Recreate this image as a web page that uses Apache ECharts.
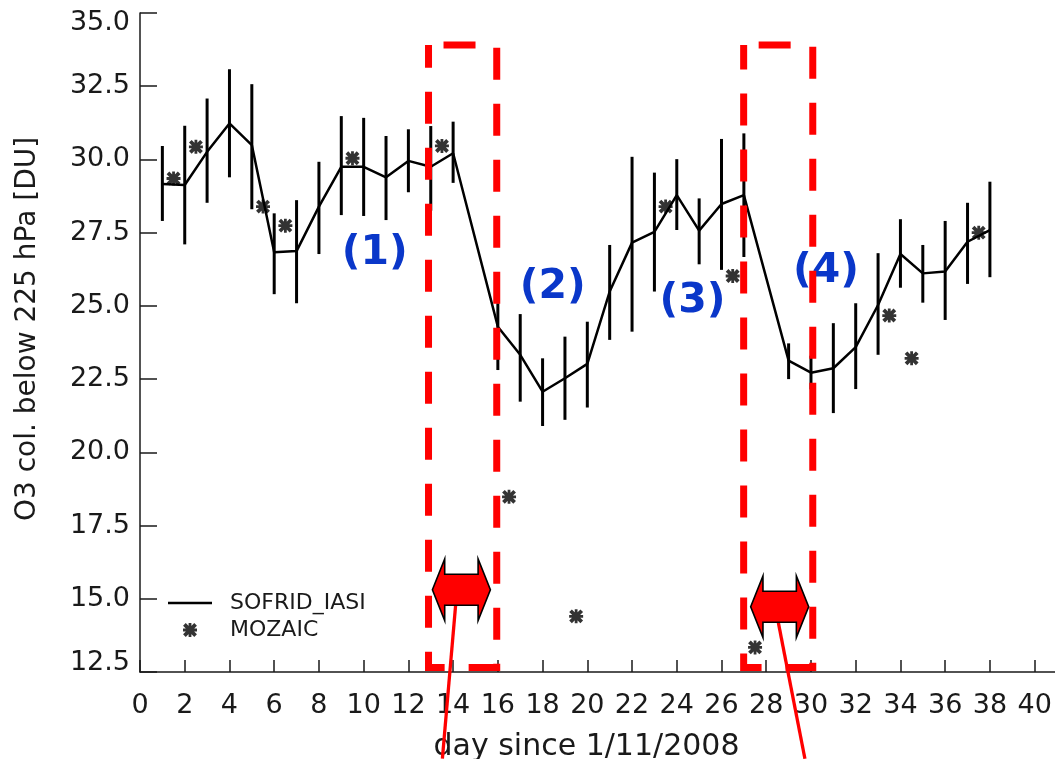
<!DOCTYPE html>
<html>
<head>
<meta charset="utf-8">
<script src="https://cdn.jsdelivr.net/npm/echarts@6/dist/echarts.min.js"></script>
<style>
  html, body { margin: 0; padding: 0; background: #fff; }
  #chart { width: 1055px; height: 759px; }
</style>
</head>
<body>
<div id="chart"></div>
<script>
// SOFRID_IASI daily O3 column below 225 hPa (DU) with its error range
const days = [1, 2, 3, 4, 5, 6, 7, 8, 9, 10, 11, 12, 13, 14, 16, 17, 18, 19, 20, 21, 22, 23, 24, 25, 26, 27, 29, 30, 31, 32, 33, 34, 35, 36, 37, 38];
const sofrid = [29.16, 29.13, 30.26, 31.23, 30.49, 26.83, 26.87, 28.39, 29.75, 29.75, 29.39, 29.95, 29.75, 30.21, 24.29, 23.33, 22.07, 22.53, 23.02, 25.49, 27.16, 27.53, 28.78, 27.57, 28.48, 28.78, 23.13, 22.72, 22.87, 23.59, 25.03, 26.77, 26.11, 26.17, 27.19, 27.59];
const sofridLow = [27.90, 27.10, 28.52, 29.39, 28.30, 25.40, 25.09, 26.77, 28.10, 28.07, 27.93, 28.88, 28.25, 29.20, 22.81, 21.73, 20.90, 21.11, 21.53, 23.84, 24.12, 25.49, 27.59, 26.42, 26.23, 26.67, 22.50, 22.15, 21.34, 22.16, 23.33, 25.62, 25.11, 24.52, 25.75, 25.98];
const sofridHigh = [30.46, 31.15, 32.08, 33.08, 32.57, 28.16, 28.61, 29.92, 31.48, 31.42, 30.80, 31.03, 31.14, 31.29, 25.09, 24.72, 23.21, 23.95, 24.46, 27.08, 30.09, 29.55, 30.01, 28.67, 30.70, 30.89, 23.72, 23.30, 24.41, 25.09, 26.80, 27.96, 27.08, 27.90, 28.52, 29.24];

// MOZAIC aircraft profiles (DU)
const mozaicDays = [1.5, 2.5, 5.5, 6.5, 9.5, 13.5, 16.5, 19.5, 23.5, 26.5, 27.5, 33.5, 34.5, 37.5];
const mozaic = [29.35, 30.43, 28.39, 27.74, 30.04, 30.46, 18.48, 14.40, 28.39, 26.02, 13.34, 24.67, 23.21, 27.50];

// Period labels and highlighted windows (in data units)
const periodLabels = ['(1)', '(2)', '(3)', '(4)'];
const periodDays = [10.5, 18.45, 24.7, 30.67];
const periodValues = [26.8, 25.62, 25.14, 26.18];
const windowStart = [12.9, 26.99];
const windowEnd = [15.95, 30.08];
const windowBottom = 12.65;
const windowTop = 33.91;
const arrowDays = [14.37, 28.6];
const arrowValues = [15.31, 14.73];
const pointerFrom = [[14.22, 15.74], [28.53, 14.23]];
const pointerTo = [[13.52, 9.54], [29.73, 9.54]];

const chart = echarts.init(document.getElementById('chart'), null, { renderer: 'canvas' });

const axisFont = 'DejaVu Sans';
const ink = '#1a1a1a';

const starPath = 'path://M8 0 L12 0 L12 20 L8 20 Z M0 8 L20 8 L20 12 L0 12 Z ' +
  'M3.9 0.1 L19.9 16.1 L16.1 19.9 L0.1 3.9 Z M16.1 0.1 L19.9 3.9 L3.9 19.9 L0.1 16.1 Z';
const legendLine = 'path://M0 0 L44 0 L44 2.4 L0 2.4 Z';

const lineData = days.map((d, i) => [d, sofrid[i]]);
const errData = days.map((d, i) => [d, sofridLow[i], sofridHigh[i]]);
const mozData = mozaicDays.map((d, i) => [d, mozaic[i]]);

chart.setOption({
  animation: false,
  backgroundColor: '#ffffff',
  // the x axis runs one day past its last labelled tick, to the page edge
  grid: { left: 140, right: -2, top: 13, bottom: 87, containLabel: false, outerBoundsMode: 'none' },
  legend: {
    orient: 'vertical',
    left: 163,
    top: 587,
    itemWidth: 44,
    itemHeight: 14,
    itemGap: 5,
    data: [
      { name: 'SOFRID_IASI', icon: legendLine },
      { name: 'MOZAIC', icon: starPath }
    ],
    formatter: function (name) { return '{t|' + name + '}'; },
    textStyle: {
      fontFamily: axisFont, fontSize: 22, color: ink,
      rich: { t: { fontFamily: axisFont, fontSize: 22, color: ink, padding: [0, 0, 0, 13] } }
    },
    selectedMode: false
  },
  xAxis: {
    type: 'value',
    min: 0,
    max: 41,
    interval: 2,
    name: 'day since 1/11/2008',
    nameLocation: 'middle',
    nameGap: 60,
    nameTextStyle: { fontFamily: axisFont, fontSize: 30, color: ink, padding: [0, 24, 0, 0] },
    axisLine: { show: true, onZero: false, lineStyle: { color: ink, width: 1.5 } },
    axisTick: { show: true, inside: true, length: 12, lineStyle: { color: ink, width: 1.5 } },
    axisLabel: {
      fontFamily: axisFont, fontSize: 27, color: ink, margin: 20, showMaxLabel: false,
      formatter: function (v) { return v % 2 === 0 ? String(v) : ''; }
    },
    splitLine: { show: false }
  },
  yAxis: {
    type: 'value',
    min: 12.5,
    max: 35,
    interval: 2.5,
    name: 'O3 col. below 225 hPa [DU]',
    nameLocation: 'middle',
    nameGap: 98,
    nameRotate: 90,
    nameTextStyle: { fontFamily: axisFont, fontSize: 28, color: ink, padding: [0, 0, 0, 27] },
    axisLine: { show: true, onZero: false, lineStyle: { color: ink, width: 1.5 } },
    axisTick: { show: true, inside: true, length: 17, lineStyle: { color: ink, width: 1.5 } },
    axisLabel: {
      fontFamily: axisFont, fontSize: 27, color: ink, margin: 10,
      formatter: function (v) {
        const s = v.toFixed(1);
        if (v === 35) return '{top|' + s + '}';
        if (v === 12.5) return '{bot|' + s + '}';
        return s;
      },
      rich: {
        top: { fontFamily: axisFont, fontSize: 27, color: ink, padding: [20, 0, 0, 0] },
        bot: { fontFamily: axisFont, fontSize: 27, color: ink, padding: [0, 0, 18, 0] }
      }
    },
    splitLine: { show: false }
  },
  series: [
    {
      name: 'SOFRID_IASI',
      type: 'line',
      data: lineData,
      symbol: 'none',
      lineStyle: { color: '#000', width: 2.5 },
      itemStyle: { color: '#000' },
      z: 3
    },
    {
      name: 'SOFRID_IASI error',
      type: 'custom',
      data: errData,
      encode: { x: 0, y: [1, 2] },
      renderItem: function (params, api) {
        const x = api.value(0);
        const lo = api.coord([x, api.value(1)]);
        const hi = api.coord([x, api.value(2)]);
        return {
          type: 'line',
          shape: { x1: lo[0], y1: lo[1], x2: hi[0], y2: hi[1] },
          style: { stroke: '#000', lineWidth: 3 }
        };
      },
      z: 3
    },
    {
      name: 'MOZAIC',
      type: 'scatter',
      data: mozData,
      symbol: starPath,
      symbolSize: 14,
      itemStyle: { color: '#000' },
      z: 4
    }
  ]
});

// Annotations placed through the grid's own data-to-pixel conversion
function px(d, v) { return chart.convertToPixel({ gridIndex: 0 }, [d, v]); }

const graphics = [];

periodLabels.forEach((t, i) => {
  const p = px(periodDays[i], periodValues[i]);
  graphics.push({
    type: 'text', x: p[0], y: p[1], z: 5,
    style: {
      text: t, fill: '#0a37c9', font: 'bold 41px "DejaVu Sans"',
      textAlign: 'center', textVerticalAlign: 'middle'
    }
  });
});

windowStart.forEach((s, i) => {
  const a = px(s, windowTop);
  const b = px(windowEnd[i], windowBottom);
  graphics.push({
    type: 'rect', z: 10,
    shape: { x: a[0], y: a[1], width: b[0] - a[0], height: b[1] - a[1] },
    style: { fill: null, stroke: '#ff0000', lineWidth: 7, lineDash: [32, 24], lineDashOffset: 41 }
  });
});

pointerFrom.forEach((f, i) => {
  const a = px(f[0], f[1]);
  const b = px(pointerTo[i][0], pointerTo[i][1]);
  graphics.push({
    type: 'line', z: 11,
    shape: { x1: a[0], y1: a[1], x2: b[0], y2: b[1] },
    style: { stroke: '#ff0000', lineWidth: 3.3 }
  });
});

arrowDays.forEach((d, i) => {
  const c = px(d, arrowValues[i]);
  const hw = 29, head = 12.3, bh = 15.5, hh = 30.8;
  const pts = [
    [c[0] - hw, c[1]],
    [c[0] - hw + head, c[1] - hh],
    [c[0] - hw + head, c[1] - bh],
    [c[0] + hw - head, c[1] - bh],
    [c[0] + hw - head, c[1] - hh],
    [c[0] + hw, c[1]],
    [c[0] + hw - head, c[1] + hh],
    [c[0] + hw - head, c[1] + bh],
    [c[0] - hw + head, c[1] + bh],
    [c[0] - hw + head, c[1] + hh]
  ];
  graphics.push({
    type: 'polygon', z: 12,
    shape: { points: pts },
    style: { fill: '#ff0000', stroke: '#000', lineWidth: 1.6 }
  });
});

chart.setOption({ graphic: graphics });
</script>
</body>
</html>
